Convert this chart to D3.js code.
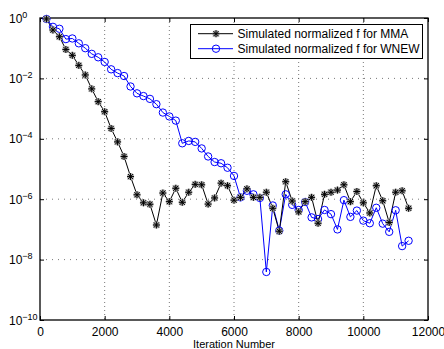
<!DOCTYPE html>
<html><head><meta charset="utf-8">
<script src="https://cdn.jsdelivr.net/npm/d3@7"></script>
<style>
body{margin:0;background:#fff;}
text{font-family:"Liberation Sans",Arial,sans-serif;}
</style></head>
<body><svg id="c" width="444" height="349"></svg>
<script>
const iterations = [200,400,600,800,1000,1200,1400,1600,1800,2000,2200,2400,2600,2800,3000,3200,3400,3600,3800,4000,
4200,4400,4600,4800,5000,5200,5400,5600,5800,6000,6200,6400,6600,6800,7000,7200,7400,7600,7800,8000,
8200,8400,8600,8800,9000,9200,9400,9600,9800,10000,10200,10400,10600,10800,11000,11200,11400];
const mma = [0.93,0.40,0.24,0.091,0.058,0.027,0.013,4.5e-3,1.7e-3,7.9e-4,2.2e-4,7.9e-5,2.6e-5,5.6e-6,1.4e-6,7.6e-7,6.8e-7,1.4e-7,1.6e-6,8.3e-7,
2.3e-6,7.9e-7,1.7e-6,3.1e-6,3.0e-6,6.9e-7,1.1e-6,3.4e-6,2.8e-6,9.3e-7,1.15e-6,2.2e-6,1.15e-6,1.15e-6,1.7e-6,5.0e-7,8.7e-8,3.8e-6,8.7e-7,3.8e-7,
8.3e-7,1.15e-6,1.6e-7,1.45e-6,1.7e-6,2.0e-6,3.0e-6,8.3e-7,1.8e-6,7.6e-7,3.5e-7,2.8e-6,8.9e-7,1.7e-7,1.7e-6,1.9e-6,5.0e-7];
const wnew = [0.93,0.51,0.44,0.20,0.21,0.145,0.10,0.065,0.050,0.035,0.020,0.015,0.012,5.4e-3,3.2e-3,2.6e-3,2.1e-3,1.4e-3,7.4e-4,5.5e-4,
4.0e-4,7.1e-5,8.5e-5,7.9e-5,4.8e-5,2.6e-5,1.7e-5,1.55e-5,1.1e-5,5.9e-6,1.15e-6,1.9e-6,1.45e-6,1.1e-6,3.9e-9,6.2e-7,9.1e-8,1.45e-6,6.5e-7,4.4e-7,
8.1e-7,2.5e-7,2.2e-7,4.4e-7,3.2e-7,1.0e-7,9.3e-7,2.6e-7,4.2e-7,1.95e-7,1.6e-7,5.2e-7,1.55e-7,8.3e-8,4.3e-7,2.8e-8,4.2e-8];
const xTicks = [0,2000,4000,6000,8000,10000,12000];
const yTickExps = [0,-2,-4,-6,-8,-10];
const seriesNames = ["Simulated normalized f for MMA","Simulated normalized f for WNEW"];
const xLabel = "Iteration Number";

const svg = d3.select("#c");
const L=40,R=428,T=18,B=320;
const x = d3.scaleLinear().domain([0,12000]).range([L,R]);
const y = d3.scaleLog().domain([1e-10,1]).range([B,T]);
const yTicks = yTickExps.map(e=>Math.pow(10,e));

// grid
const g = svg.append("g");
g.selectAll(".gx").data(xTicks.slice(1,-1)).join("line")
 .attr("x1",d=>x(d)).attr("x2",d=>x(d)).attr("y1",T).attr("y2",B)
 .attr("stroke","#555").attr("stroke-width",0.8).attr("stroke-dasharray","1,3");
g.selectAll(".gy").data(yTicks.slice(1,-1)).join("line")
 .attr("x1",L).attr("x2",R).attr("y1",d=>y(d)).attr("y2",d=>y(d))
 .attr("stroke","#555").attr("stroke-width",0.8).attr("stroke-dasharray","1,5");

// axes
const ax = svg.append("g").attr("transform",`translate(0,${B})`)
 .call(d3.axisBottom(x).tickValues(xTicks).tickSize(-4).tickPadding(7).tickFormat(d3.format("d")));
const axT = svg.append("g").attr("transform",`translate(0,${T})`)
 .call(d3.axisTop(x).tickValues(xTicks).tickSize(-4).tickFormat(""));
const ayL = svg.append("g").attr("transform",`translate(${L},0)`)
 .call(d3.axisLeft(y).tickValues(yTicks).tickSize(-4).tickFormat(""));
const ayR = svg.append("g").attr("transform",`translate(${R},0)`)
 .call(d3.axisRight(y).tickValues(yTicks).tickSize(-4).tickFormat(""));
[ax,axT,ayL,ayR].forEach(a=>{a.select(".domain").remove();a.selectAll("line").attr("stroke","#000");});
ax.selectAll("text").attr("font-size",12).attr("fill","#000").attr("font-family","Liberation Sans, Arial, sans-serif");

// y labels with superscripts
const yl = svg.append("g");
yTickExps.forEach(e=>{
  const t = yl.append("text").attr("x",9).attr("y",y(Math.pow(10,e))+4.5)
    .attr("font-size",12).attr("fill","#000");
  t.append("tspan").text("10");
  t.append("tspan").attr("dy",-5).attr("font-size",9).text(e===0?"0":"\u2212"+(-e));
});

// frame
svg.append("rect").attr("x",L).attr("y",T).attr("width",R-L).attr("height",B-T)
 .attr("fill","none").attr("stroke","#000").attr("stroke-width",1.3);

// lines
const line = d3.line().x((d,i)=>x(iterations[i])).y(d=>y(d));
svg.append("path").datum(wnew).attr("d",line).attr("fill","none").attr("stroke","#0000ff").attr("stroke-width",1);
svg.append("path").datum(mma).attr("d",line).attr("fill","none").attr("stroke","#000").attr("stroke-width",1);

const star = "M-3.5,0H3.5M0,-3.5V3.5M-2.6,-2.6L2.6,2.6M-2.6,2.6L2.6,-2.6";
function drawStar(sel){
  sel.append("path").attr("d",star).attr("stroke","#aaa").attr("stroke-width",2.4).attr("fill","none");
  sel.append("path").attr("d",star).attr("stroke","#000").attr("stroke-width",1).attr("fill","none");
}
svg.append("g").selectAll("circle").data(wnew).join("circle")
 .attr("cx",(d,i)=>x(iterations[i])).attr("cy",d=>y(d)).attr("r",3.7)
 .attr("fill","none").attr("stroke","#0000ff").attr("stroke-width",1);
svg.append("g").selectAll("g").data(mma).join("g")
 .attr("transform",(d,i)=>`translate(${x(iterations[i])},${y(d)})`).each(function(){drawStar(d3.select(this));});

// legend
const lg = svg.append("g");
lg.append("rect").attr("x",190.5).attr("y",24.5).attr("width",232).attr("height",34)
 .attr("fill","#fff").attr("stroke","#000").attr("stroke-width",1);
const rows=[33.7,48.7];
lg.append("line").attr("x1",198).attr("x2",233).attr("y1",rows[0]).attr("y2",rows[0]).attr("stroke","#000");
drawStar(lg.append("g").attr("transform",`translate(216,${rows[0]})`));
lg.append("line").attr("x1",198).attr("x2",233).attr("y1",rows[1]).attr("y2",rows[1]).attr("stroke","#0000ff");
lg.append("circle").attr("cx",216).attr("cy",rows[1]).attr("r",3.7).attr("fill","none").attr("stroke","#0000ff");
seriesNames.forEach((n,i)=>{
  lg.append("text").attr("x",237.5).attr("y",rows[i]+4.3).attr("font-size",12).attr("fill","#000").text(n);
});

// x label
svg.append("text").attr("x",(L+R)/2).attr("y",347.5).attr("text-anchor","middle")
 .attr("font-size",11).attr("fill","#000").text(xLabel);
</script></body></html>
